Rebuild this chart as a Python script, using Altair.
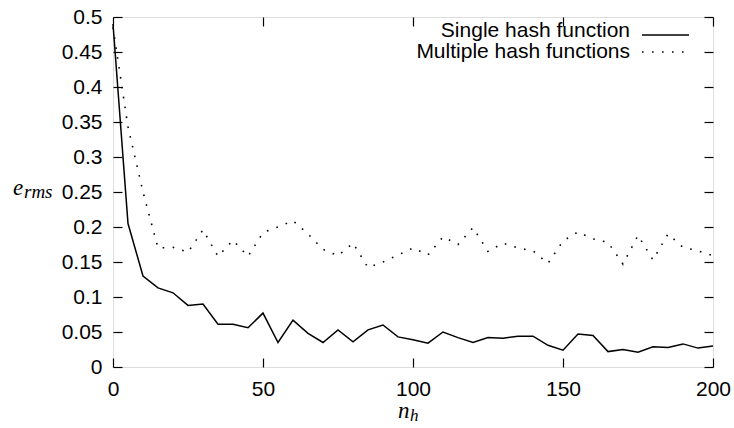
import altair as alt
import pandas as pd

# ---- data ----
n_h = [0, 5, 10, 15, 20, 25, 30, 35, 40, 45, 50, 55, 60, 65, 70, 75, 80, 85, 90, 95,
       100, 105, 110, 115, 120, 125, 130, 135, 140, 145, 150, 155, 160, 165, 170, 175,
       180, 185, 190, 195, 200]
single = [0.49, 0.205, 0.130, 0.113, 0.106, 0.088, 0.090, 0.061, 0.061, 0.056, 0.077,
          0.035, 0.067, 0.048, 0.035, 0.053, 0.036, 0.053, 0.060, 0.043, 0.039, 0.034,
          0.050, 0.042, 0.035, 0.042, 0.041, 0.044, 0.044, 0.031, 0.024, 0.047, 0.045,
          0.022, 0.025, 0.021, 0.029, 0.028, 0.033, 0.027, 0.030]
multiple = [0.485, 0.343, 0.250, 0.170, 0.171, 0.164, 0.196, 0.158, 0.181, 0.158, 0.192,
            0.200, 0.209, 0.190, 0.168, 0.159, 0.177, 0.142, 0.150, 0.160, 0.170, 0.160,
            0.186, 0.175, 0.199, 0.165, 0.177, 0.170, 0.166, 0.148, 0.180, 0.193, 0.183,
            0.178, 0.147, 0.188, 0.153, 0.190, 0.171, 0.166, 0.159]
series_names = ["Single hash function", "Multiple hash functions"]
x_ticks = [0, 50, 100, 150, 200]
y_ticks = [0, 0.05, 0.1, 0.15, 0.2, 0.25, 0.3, 0.35, 0.4, 0.45, 0.5]

FONT = "Liberation Sans"
SERIF = "Liberation Serif"
TICK_FS = 21

df_single = pd.DataFrame({"n_h": n_h, "e_rms": single})
df_multi = pd.DataFrame({"n_h": n_h, "e_rms": multiple})

xscale = alt.Scale(domain=[0, 200], nice=False, zero=False)
yscale = alt.Scale(domain=[0, 0.5], nice=False)

ax_bottom = alt.Axis(orient="bottom", values=x_ticks, title=None, grid=False, domain=False,
                     offset=-9, tickSize=9, tickColor="black", tickWidth=1.2,
                     labelPadding=11, labelFont=FONT, labelFontSize=TICK_FS,
                     labelColor="black", labelFlush=False)
ax_left = alt.Axis(orient="left", values=y_ticks, format="~g", title=None, grid=False,
                   domain=False, offset=-9, tickSize=9, tickColor="black", tickWidth=1.2,
                   labelPadding=11, labelFont=FONT, labelFontSize=TICK_FS,
                   labelColor="black", labelFlush=False)
ax_top = alt.Axis(orient="top", values=x_ticks, title=None, grid=False, domain=False,
                  offset=-9, tickSize=9, tickColor="black", tickWidth=1.2, labels=False)
ax_right = alt.Axis(orient="right", values=y_ticks, title=None, grid=False, domain=False,
                    offset=-9, tickSize=9, tickColor="black", tickWidth=1.2, labels=False)

line_single = alt.Chart(df_single).mark_line(color="black", strokeWidth=1.5).encode(
    x=alt.X("n_h:Q", scale=xscale, axis=ax_bottom),
    y=alt.Y("e_rms:Q", scale=yscale, axis=ax_left),
)
line_multi = alt.Chart(df_multi).mark_line(
    color="black", strokeWidth=1.6, strokeDash=[1.6, 8.4], strokeCap="butt"
).encode(
    x=alt.X("n_h:Q", scale=xscale, axis=ax_top),
    y=alt.Y("e_rms:Q", scale=yscale, axis=ax_right),
)

# ---- key (gnuplot style: label then sample) ----
key_layers = []
key_rows = [(13.5, 18, None), (35, 35, [1.6, 8.4])]
for name, (ty, ly, dash) in zip(series_names, key_rows):
    key_layers.append(
        alt.Chart(pd.DataFrame({"label": [name]})).mark_text(
            font=FONT, fontSize=21, align="right", baseline="middle", color="black"
        ).encode(text="label:N", x=alt.value(517), y=alt.value(ty))
    )
    rule_kwargs = dict(color="black", strokeWidth=1.5 if dash is None else 1.6)
    if dash is not None:
        rule_kwargs["strokeDash"] = dash
        rule_kwargs["strokeCap"] = "butt"
    key_layers.append(
        alt.Chart(pd.DataFrame({"label": [name]})).mark_rule(**rule_kwargs).encode(
            x=alt.value(529), x2=alt.value(576), y=alt.value(ly)
        )
    )

# ---- axis titles with math-style subscripts ----
def txt(s, x, y, size, align="left"):
    return alt.Chart(pd.DataFrame({"t": [s]})).mark_text(
        font=SERIF, fontStyle="italic", fontSize=size, align=align,
        baseline="alphabetic", color="black"
    ).encode(text="t:N", x=alt.value(x), y=alt.value(y))

titles = [
    txt("e", -100, 178, 23),
    txt("rms", -89, 181, 19),
    txt("n", 285, 401, 23),
    txt("h", 297, 404, 17),
]

chart = alt.layer(line_single, line_multi, *key_layers, *titles).resolve_axis(
    x="independent", y="independent"
).properties(
    width=600, height=350,
    autosize=alt.AutoSizeParams(type="none"),
    padding={"left": 113, "top": 17, "right": 21, "bottom": 61},
).configure_view(stroke="black", strokeWidth=1.2).configure(background="white")

chart.save("out.html", embed_options={"renderer": "svg", "actions": False})
